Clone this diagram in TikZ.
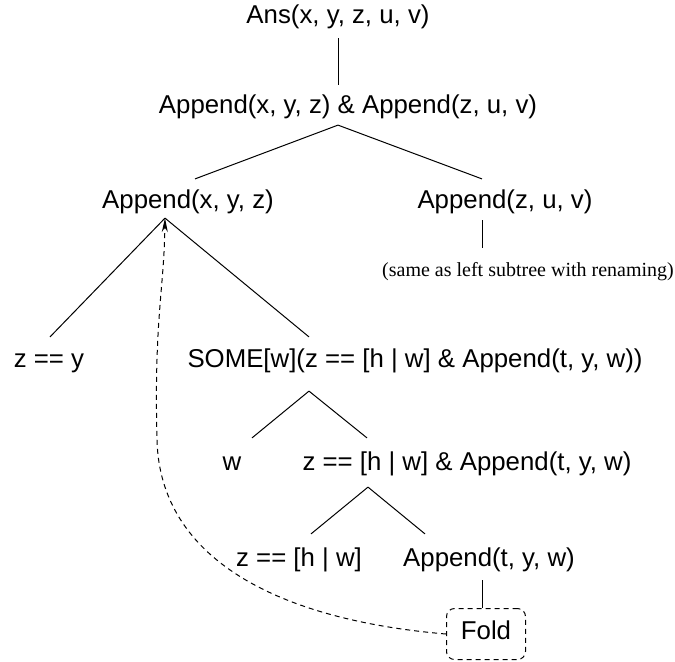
\documentclass[tikz,border=0pt]{standalone}
\usepackage{fontspec}
\setmainfont{Liberation Sans}
\newfontfamily\serifnote{Liberation Serif}
\usetikzlibrary{calc, arrows.meta}

\begin{document}
\begin{tikzpicture}[x=0.5pt, y=-0.5pt, line width=0.5pt,
    term/.style={inner sep=0pt, text height=0.75em, text depth=0.21em,
                 font=\fontsize{12.9}{15}\selectfont},
    note/.style={term, font=\serifnote\fontsize{10}{12}\selectfont},
    foldbox/.style={term, draw, dash pattern=on 2.5pt off 2pt, rounded corners=4pt,
                    minimum width=39.5pt, minimum height=25.5pt}]
\useasboundingbox (0,0) rectangle (675,661);

\node[term] (ans) at (338,18) {Ans(x, y, z, u, v)};
\node[term] (both) at (348,108) {Append(x, y, z) \& Append(z, u, v)};
\node[term] (left) at (188,203) {Append(x, y, z)};
\node[term] (right) at (505,203) {Append(z, u, v)};
\node[note] (same) at (528,271) {(same as left subtree with renaming)};
\node[term] (base) at (49,362) {z == y};
\node[term] (some) at (415,362) {SOME[w](z == [h | w] \& Append(t, y, w))};
\node[term] (w) at (232,465) {w};
\node[term] (conj) at (467,465) {z == [h | w] \& Append(t, y, w)};
\node[term] (cons) at (299,561) {z == [h | w]};
\node[term] (rec) at (489,561) {Append(t, y, w)};
\node[foldbox] (fold) at (486,634) {Fold};

% branching points under the terms
\coordinate (bothTip) at ($(both.south)+(-10,7)$);
\coordinate (leftTip) at ($(left.south)+(-23,5)$);
\coordinate (someTip) at ($(some.south)+(-106,19)$);
\coordinate (conjTip) at ($(conj.south)+(-99,12)$);

\draw ($(ans.south)+(0,10)$) -- ($(both.north)+(-10,-13)$);
\draw (bothTip) -- ($(left.north)+(7,-14)$);
\draw (bothTip) -- ($(right.north)+(-23,-14)$);
\draw ($(right.south)+(-23,7)$) -- ($(same.north)+(-46,-13)$);
\draw (leftTip) -- ($(base.north)+(1,-15)$);
\draw (leftTip) -- ($(some.north)+(-106,-15)$);
\draw (someTip) -- ($(w.north)+(20,-17)$);
\draw (someTip) -- ($(conj.north)+(-100,-17)$);
\draw (conjTip) -- ($(cons.north)+(12,-17)$);
\draw (conjTip) -- ($(rec.north)+(-64,-17)$);
\draw ($(rec.south)+(-7,9)$) -- ($(fold.north)+(-4,0)$);

% fold back to the recursive call
\draw[dash pattern=on 2.5pt off 2pt, -{Stealth[length=7pt,width=3pt]}]
    (fold.west) .. controls (280,620) and (160,560) .. (157,440)
    .. controls (154,320) and (164,290) .. (leftTip);
\end{tikzpicture}
\end{document}
